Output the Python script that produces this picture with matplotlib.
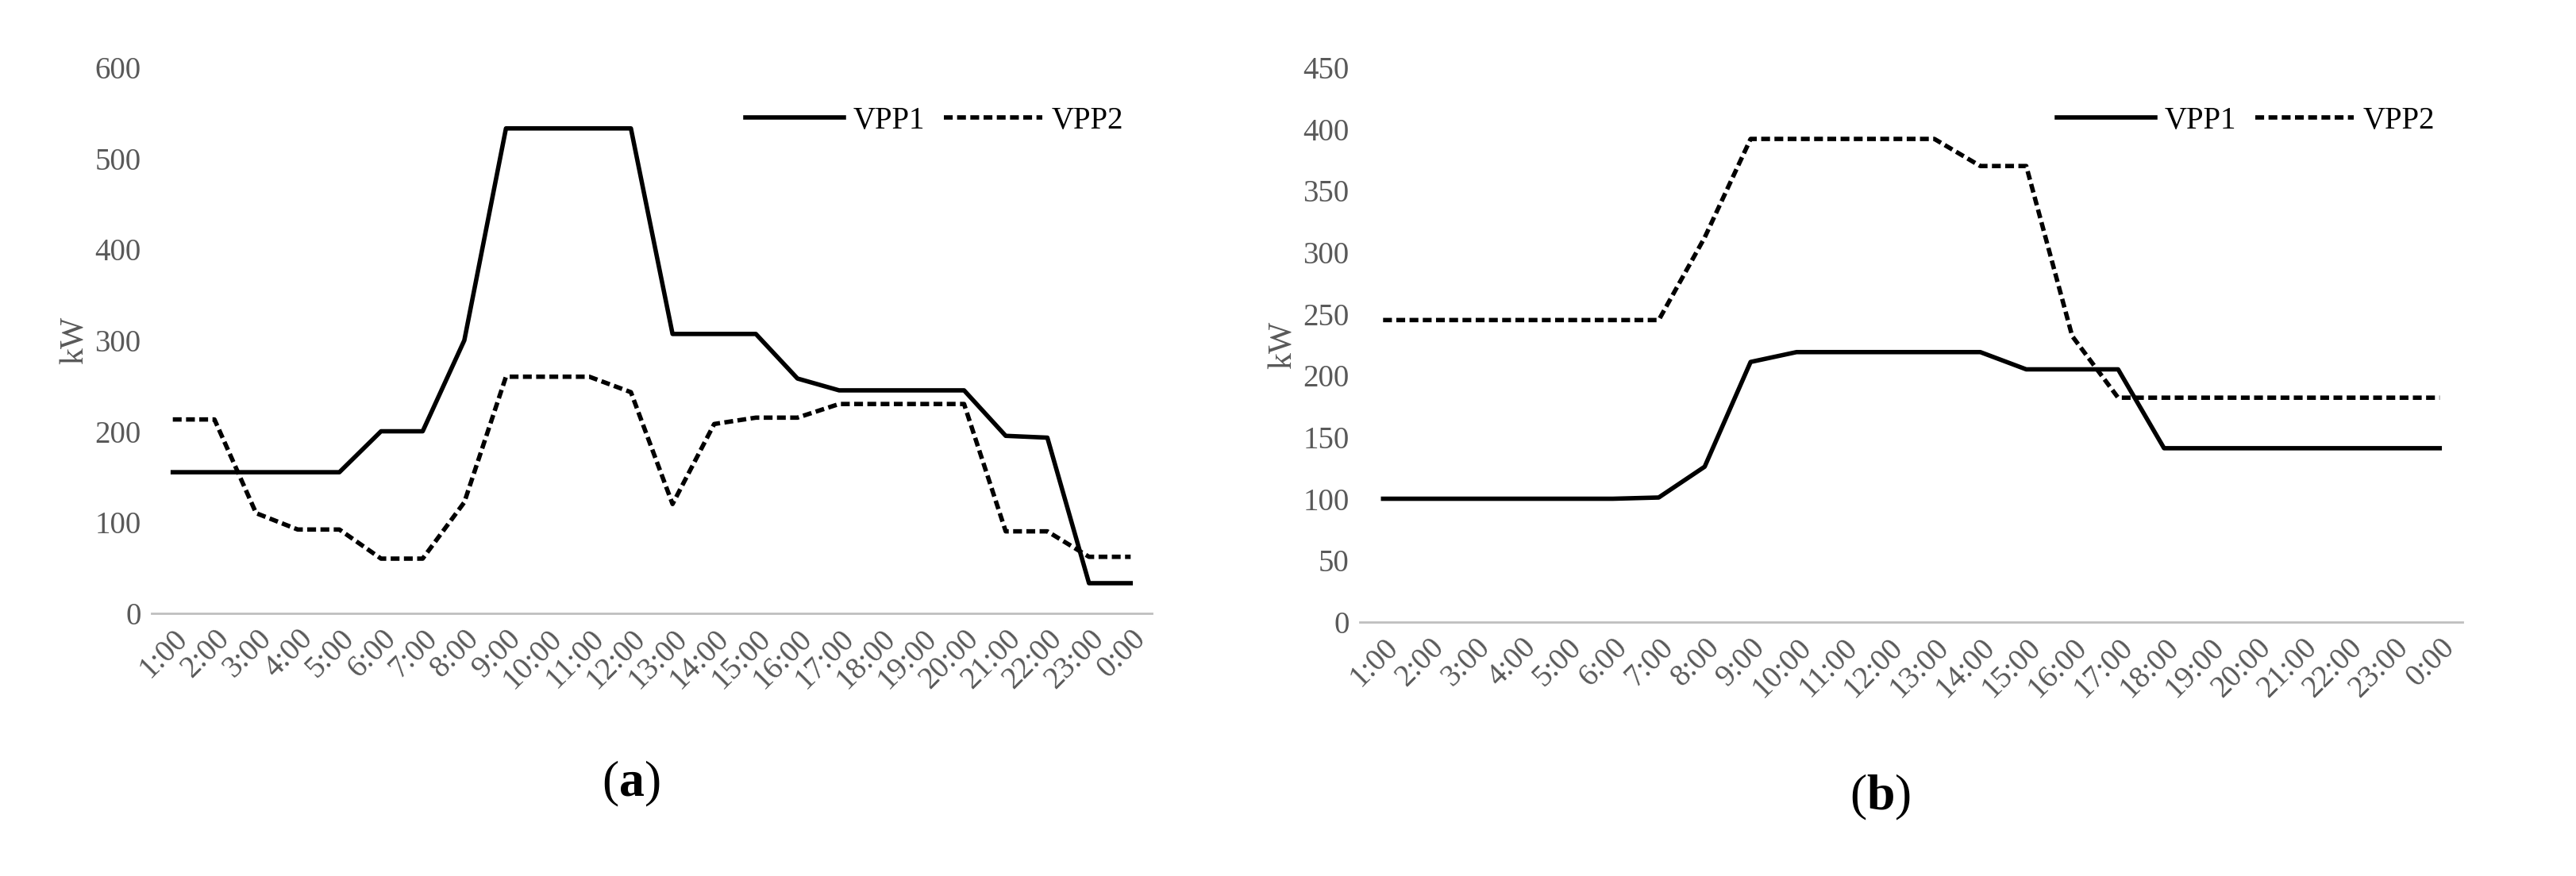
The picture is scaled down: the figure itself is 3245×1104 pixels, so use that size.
import matplotlib
matplotlib.use("Agg")
import matplotlib.pyplot as plt

hours = [f"{h}:00" for h in range(1, 24)] + ["0:00"]
a_vpp1 = [155,155,155,155,155,200,200,300,533,533,533,533,307,307,307,258,245,245,245,245,195,193,33,33]
a_vpp2 = [213,213,110,92,92,60,60,122,260,260,260,243,120,208,215,215,230,230,230,230,90,90,62,62]
b_vpp1 = [100,100,100,100,100,100,101,126,211,219,219,219,219,219,205,205,205,141,141,141,141,141,141,141]
b_vpp2 = [245,245,245,245,245,245,245,312,392,392,392,392,392,370,370,232,182,182,182,182,182,182,182,182]

plt.rcParams['font.family'] = ['Liberation Serif', 'DejaVu Serif']
plt.rcParams['mathtext.fontset'] = 'custom'
plt.rcParams['mathtext.rm'] = 'Liberation Serif'
plt.rcParams['mathtext.bf'] = 'Liberation Serif:bold'
fig = plt.figure(figsize=(32.45, 11.04), dpi=100)
grey = '#595959'

def panel(rect, v1, v2, ymax, step, label, lx, ly):
    ax = fig.add_axes(rect)
    x = range(len(hours))
    ax.plot(x, v1, color='black', lw=4, label='VPP1')
    ax.plot(x, v2, color='black', lw=4, ls=(0, (2, 1)), label='VPP2')
    ax.set_xlim(-0.5, len(hours) - 0.5)
    ax.set_ylim(0, ymax)
    ax.set_yticks(range(0, ymax + 1, step))
    ax.set_xticks(list(x))
    ax.set_xticklabels(hours, rotation=45, ha='right', rotation_mode='anchor')
    for s in ['top', 'right', 'left']:
        ax.spines[s].set_visible(False)
    ax.spines['bottom'].set_color('#bfbfbf')
    ax.spines['bottom'].set_linewidth(2)
    ax.tick_params(axis='both', colors=grey, labelsize=28, length=0, pad=10)
    ax.set_ylabel('kW', fontsize=30, color=grey)
    ax.legend(loc='upper right', frameon=False, ncol=2, fontsize=28,
              handlelength=3.2, handletextpad=0.3, columnspacing=0.6,
              bbox_to_anchor=(1.0, 0.98))
    fig.text(lx, ly, label, fontsize=46, ha='center', va='center')

panel([0.059, 0.30, 0.388, 0.623], a_vpp1, a_vpp2, 600, 100, r'($\mathbf{a}$)', 0.245, 0.105)
panel([0.528, 0.29, 0.428, 0.633], b_vpp1, b_vpp2, 450, 50, r'($\mathbf{b}$)', 0.73, 0.09)
fig.savefig('out.png', dpi=100)
